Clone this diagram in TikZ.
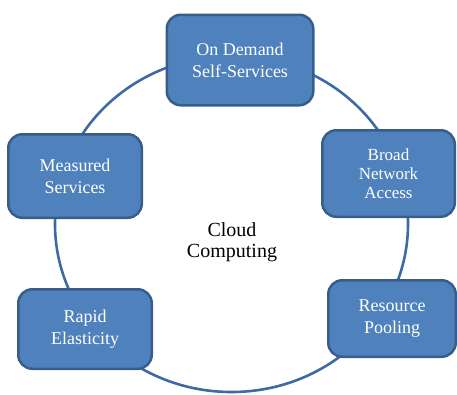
\documentclass[tikz,border=0pt]{standalone}
\usepackage{fontspec}
\setmainfont{Liberation Serif}
\usetikzlibrary{calc,positioning}

\definecolor{boxfill}{HTML}{4F81BD}
\definecolor{boxline}{HTML}{385D8A}
\definecolor{ringline}{HTML}{3E6AA3}

\begin{document}
\begin{tikzpicture}[
        x=1pt, y=-1pt,
        feature/.style = {draw=boxline, fill=boxfill, line width=2.5pt, rounded corners=14pt,
            text=white, align=center, inner sep=2pt,
            font=\fontsize{18}{22}\selectfont},
        centre/.style = {align=center, font=\fontsize{20}{21}\selectfont},
        ring/.style = {draw=ringline, line width=2.6pt}]

    \def\rx{176.5}
    \def\ry{168}

    \useasboundingbox (0,0) rectangle (457,394);

    % ring behind the boxes
    \draw[ring] (231.5,224) ellipse [x radius=\rx, y radius=\ry];

    \node (cloud) at (232,242) [centre] {Cloud\\Computing};

    \node (demand) at (240,60) [feature, minimum width=146.5pt, minimum height=90.5pt]
        {On Demand\\Self-Services};
    \node (broad) at (388.5,173.5) [feature, minimum width=132.5pt, minimum height=86.5pt,
        font=\fontsize{17}{19}\selectfont] {Broad\\Network\\Access};
    \node (pooling) at (392,318.5) [feature, minimum width=127.5pt, minimum height=76.5pt]
        {Resource\\Pooling};
    \node (rapid) at (85,329) [feature, minimum width=133.5pt, minimum height=79.5pt]
        {Rapid\\Elasticity};
    \node (measured) at (75,176) [feature, minimum width=133.5pt, minimum height=83.5pt]
        {Measured\\Services};

\end{tikzpicture}
\end{document}
